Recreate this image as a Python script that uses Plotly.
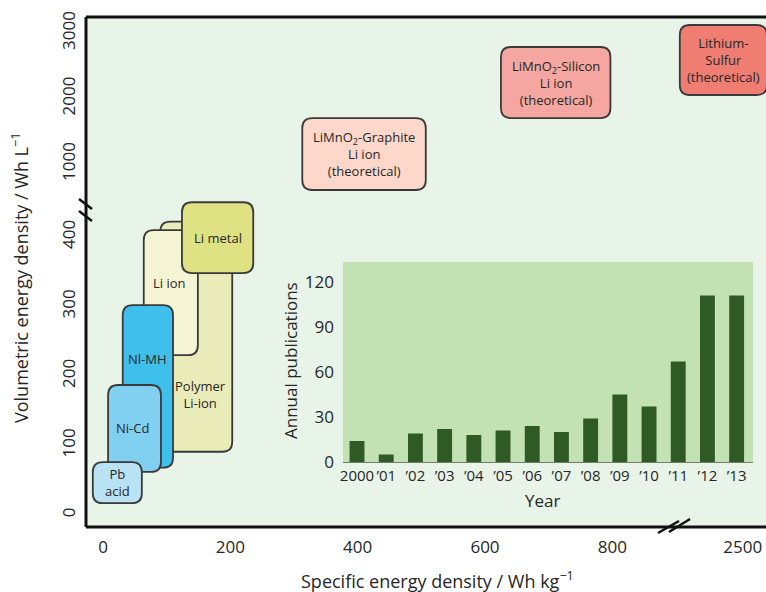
import plotly.graph_objects as go

# ---------------------------------------------------------------- data
years = ["2000", "’01", "’02", "’03", "’04", "’05", "’06", "’07",
         "’08", "’09", "’10", "’11", "’12", "’13"]
publications = [14, 5, 19, 22, 18, 21, 24, 20, 29, 45, 37, 67, 111, 111]
pub_ticks = [0, 30, 60, 90, 120]

# practical chemistries: (min, max) specific energy in Wh/kg and volumetric energy in Wh/L
chem_names = ["Polymer<br>Li-ion", "Li ion", "Li metal", "Nl-MH", "Ni-Cd", "Pb<br>acid"]
chem_wh_kg = [(90, 203), (64, 149), (124, 236), (31, 110), (8, 91), (-16, 61)]
chem_wh_l = [(91, 422), (230, 410), (348, 450), (68, 302), (62, 187), (17, 76)]

# theoretical chemistries
theory_names = ["LiMnO<sub>2</sub>-Graphite<br>Li ion<br>(theoretical)",
                "LiMnO<sub>2</sub>-Silicon<br>Li ion<br>(theoretical)",
                "Lithium-<br>Sulfur<br>(theoretical)"]
theory_wh_kg = [(313, 507), (625, 797), (2401, 2538)]
theory_wh_l = [(603, 1702), (1702, 2787), (2054, 3123)]

x_ticks_near = [0, 200, 400, 600, 800]
x_ticks_far = [2500]
y_ticks_near = [0, 100, 200, 300, 400]
y_ticks_far = [1000, 2000, 3000]

# ---------------------------------------------------------------- styling
W, H = 766, 592
ML, MR, MT, MB = 86, 0, 17, 65
PW, PH = W - ML - MR, H - MT - MB
FONT = "Open Sans"
TXT = "#262626"

chem_fill = ["#e9ebb9", "#f5f5d6", "#dfe283", "#3fbfec", "#82d0f1", "#b9e2f5"]
chem_label_pos = [(0.56, 0.25), (0.48, 0.58), (0.5, 0.5), (0.5, 0.67), (0.47, 0.5), (0.5, 0.5)]
theory_fill = ["#fcd7ca", "#f5a6a1", "#f07d72"]

x_near_dom, x_near_rng = [0, 590 / PW], [-26.7, 900]
x_far_dom, x_far_rng = [590 / PW, 1], [2395, 2536.6]
y_near_dom, y_near_rng = [0, 337 / PH], [-17.3, 467.6]
y_far_dom, y_far_rng = [314 / PH, 1], [252, 3245]


def px_per_unit(dom, rng, size):
    return (dom[1] - dom[0]) * size / (rng[1] - rng[0])


def rounded_path(x0, x1, y0, y1, rx, ry):
    return (f"M {x0 + rx},{y0} L {x1 - rx},{y0} Q {x1},{y0} {x1},{y0 + ry} "
            f"L {x1},{y1 - ry} Q {x1},{y1} {x1 - rx},{y1} "
            f"L {x0 + rx},{y1} Q {x0},{y1} {x0},{y1 - ry} "
            f"L {x0},{y0 + ry} Q {x0},{y0} {x0 + rx},{y0} Z")


def pp(px, py):
    return (px - ML) / PW, (H - MB - py) / PH


def label(x, y, text, size, angle=0, xref="paper", yref="paper"):
    return dict(xref=xref, yref=yref, x=x, y=y, text=text, showarrow=False,
                xanchor="center", yanchor="middle", textangle=angle,
                font=dict(family=FONT, size=size, color=TXT))


R_PX = 10
shapes = []
annotations = []

# plot-area background
shapes.append(dict(type="rect", xref="paper", yref="paper", x0=0, x1=1, y0=0, y1=1,
                   fillcolor="#e9f4e8", line_width=0, layer="below"))

# practical chemistries on the near axes
sx = px_per_unit(x_near_dom, x_near_rng, PW)
sy = px_per_unit(y_near_dom, y_near_rng, PH)
for name, (a, b), (c, d), col, (fx, fy) in zip(chem_names, chem_wh_kg, chem_wh_l,
                                               chem_fill, chem_label_pos):
    shapes.append(dict(type="path", xref="x", yref="y", layer="below",
                       path=rounded_path(a, b, c, d, R_PX / sx, R_PX / sy),
                       fillcolor=col, line=dict(color="#3a3a3a", width=1.8)))
    annotations.append(label(a + fx * (b - a), c + fy * (d - c), name, 13,
                             xref="x", yref="y"))

# theoretical chemistries on the far (upper) axes
for i, (name, (a, b), (c, d), col) in enumerate(zip(theory_names, theory_wh_kg,
                                                     theory_wh_l, theory_fill)):
    far_x = i == 2
    xr, xd = ("x2", x_far_dom) if far_x else ("x", x_near_dom)
    rngx = x_far_rng if far_x else x_near_rng
    sxf = px_per_unit(xd, rngx, PW)
    syf = px_per_unit(y_far_dom, y_far_rng, PH)
    shapes.append(dict(type="path", xref=xr, yref="y2", layer="below",
                       path=rounded_path(a, b, c, d, R_PX / sxf, R_PX / syf),
                       fillcolor=col, line=dict(color="#3a3a3a", width=1.8)))
    annotations.append(label((a + b) / 2, (c + d) / 2, name, 13, xref=xr, yref="y2"))

# frame lines
for x0, y0, x1, y1 in [(0, 0, 0, 1), (0, 0, 1, 0), (0, 1, 1, 1)]:
    shapes.append(dict(type="line", xref="paper", yref="paper", x0=x0, y0=y0, x1=x1, y1=y1,
                       line=dict(color="#111111", width=3)))

# axis break marks
for (ax0, ay0), (ax1, ay1) in [((79, 199), (92, 209)), ((79, 211), (92, 221)),
                               ((658, 533), (679, 521)), ((669, 532), (690, 519))]:
    p0, p1 = pp(ax0, ay0), pp(ax1, ay1)
    shapes.append(dict(type="line", xref="paper", yref="paper",
                       x0=p0[0], y0=p0[1], x1=p1[0], y1=p1[1],
                       line=dict(color="#111111", width=2.5)))

# inset panel background
shapes.append(dict(type="rect", xref="x3 domain", yref="y3 domain", x0=0, x1=1, y0=0, y1=1,
                   fillcolor="#c3e2b3", line_width=0, layer="below"))

# axis titles
annotations.append(label(*pp(437, 580), "Specific energy density / Wh kg<sup>−1</sup>", 18))
annotations.append(label(*pp(20, 278), "Volumetric energy density / Wh L<sup>−1</sup>", 18,
                         angle=-90))
annotations.append(label(*pp(290, 361), "Annual publications", 17, angle=-90))
annotations.append(label(*pp(542, 500), "Year", 17))

fig = go.Figure()

# invisible anchors so each broken-axis panel exists
hidden = dict(mode="markers", marker=dict(opacity=0), hoverinfo="skip", showlegend=False)
fig.add_trace(go.Scatter(x=[sum(v) / 2 for v in chem_wh_kg],
                         y=[sum(v) / 2 for v in chem_wh_l], xaxis="x", yaxis="y", **hidden))
fig.add_trace(go.Scatter(x=[sum(v) / 2 for v in theory_wh_kg[:2]],
                         y=[sum(v) / 2 for v in theory_wh_l[:2]], xaxis="x", yaxis="y2", **hidden))
fig.add_trace(go.Scatter(x=[sum(theory_wh_kg[2]) / 2], y=[sum(theory_wh_l[2]) / 2],
                         xaxis="x2", yaxis="y2", **hidden))

# inset bar chart of annual publications
fig.add_trace(go.Bar(x=list(range(len(years))), y=publications, xaxis="x3", yaxis="y3",
                     width=0.51, marker=dict(color="#2f5a26", line_width=0),
                     showlegend=False, hoverinfo="skip"))

tickfont = dict(family=FONT, size=17, color=TXT)
common = dict(showgrid=False, zeroline=False, showline=False, ticks="", tickfont=tickfont)

fig.update_layout(
    width=W, height=H,
    margin=dict(l=ML, r=MR, t=MT, b=MB),
    paper_bgcolor="white", plot_bgcolor="rgba(0,0,0,0)",
    showlegend=False,
    xaxis=dict(domain=x_near_dom, range=x_near_rng, anchor="y",
               tickvals=x_ticks_near, ticklabelstandoff=8, **common),
    xaxis2=dict(domain=x_far_dom, range=x_far_rng, anchor="y",
                tickvals=x_ticks_far, ticklabelstandoff=8, **common),
    yaxis=dict(domain=y_near_dom, range=y_near_rng, anchor="x",
               tickvals=y_ticks_near, tickangle=-90, ticklabelstandoff=7, **common),
    yaxis2=dict(domain=y_far_dom, range=y_far_rng, anchor="x",
                tickvals=y_ticks_far, tickangle=-90, ticklabelstandoff=7, **common),
    xaxis3=dict(domain=[(343 - ML) / PW, (753 - ML) / PW], range=[-0.48, 13.56], anchor="y3",
                tickvals=list(range(len(years))), ticktext=years, tickangle=0,
                showgrid=False, zeroline=False, showline=True, linecolor="#6f7f6c",
                linewidth=1, ticks="", ticklabelstandoff=0,
                tickfont=dict(family=FONT, size=15, color=TXT)),
    yaxis3=dict(domain=[(H - MB - 462) / PH, (H - MB - 262) / PH], range=[0, 133.3],
                anchor="x3", tickvals=pub_ticks, showgrid=False, zeroline=False,
                showline=False, ticks="", ticklabelstandoff=8,
                tickfont=dict(family=FONT, size=17, color=TXT)),
    shapes=shapes,
    annotations=annotations,
)

fig.write_html("out.html")
